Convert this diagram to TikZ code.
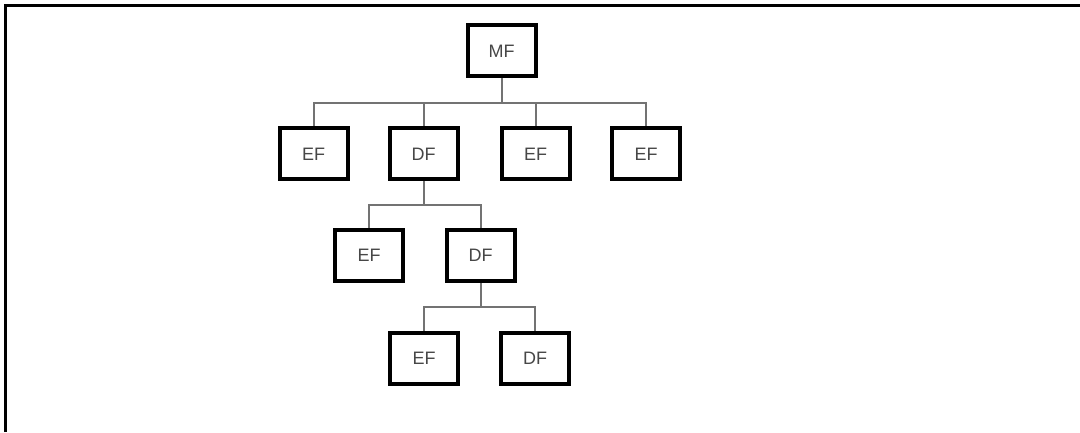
\documentclass[tikz,border=0pt]{standalone}
\usepackage{fontspec}
\setmainfont{Liberation Sans}
\usetikzlibrary{positioning,calc}

\begin{document}
\begin{tikzpicture}[x=1pt, y=1pt,
    box/.style={draw=black, line width=4pt, fill=white, minimum width=68pt, minimum height=51pt, inner sep=0pt, font=\fontsize{18}{18}\selectfont, text=black!72},
    link/.style={draw=black!55, line width=2pt}]
    % Page and frame
    \useasboundingbox (0,0) rectangle (1080,432);
    \draw[line width=3pt] (5.5,0) -- (5.5,426) -- (1080,426);

    % Bars between levels
    \coordinate (bar1) at (0,329);
    \coordinate (bar2) at (0,227);
    \coordinate (bar3) at (0,125);

    % Level 0
    \node[box] (mf) at (501.5,381) {MF};

    % Level 1
    \node[box] (ef1) at (313.5,278) {EF};
    \node[box] (df1) at (423.5,278) {DF};
    \node[box] (ef2) at (535.5,278) {EF};
    \node[box] (ef3) at (646,278) {EF};

    % Level 2
    \node[box] (ef4) at (369,176.5) {EF};
    \node[box] (df2) at (480.5,176.5) {DF};

    % Level 3
    \node[box] (ef5) at (424,73.5) {EF};
    \node[box] (df3) at (535,73.5) {DF};

    % Links
    \foreach \child in {ef1,df1,ef2,ef3}
        \draw[link] (mf.south) -- (mf.south |- bar1) -| (\child.north);
    \foreach \child in {ef4,df2}
        \draw[link] (df1.south) -- (df1.south |- bar2) -| (\child.north);
    \foreach \child in {ef5,df3}
        \draw[link] (df2.south) -- (df2.south |- bar3) -| (\child.north);
\end{tikzpicture}
\end{document}
